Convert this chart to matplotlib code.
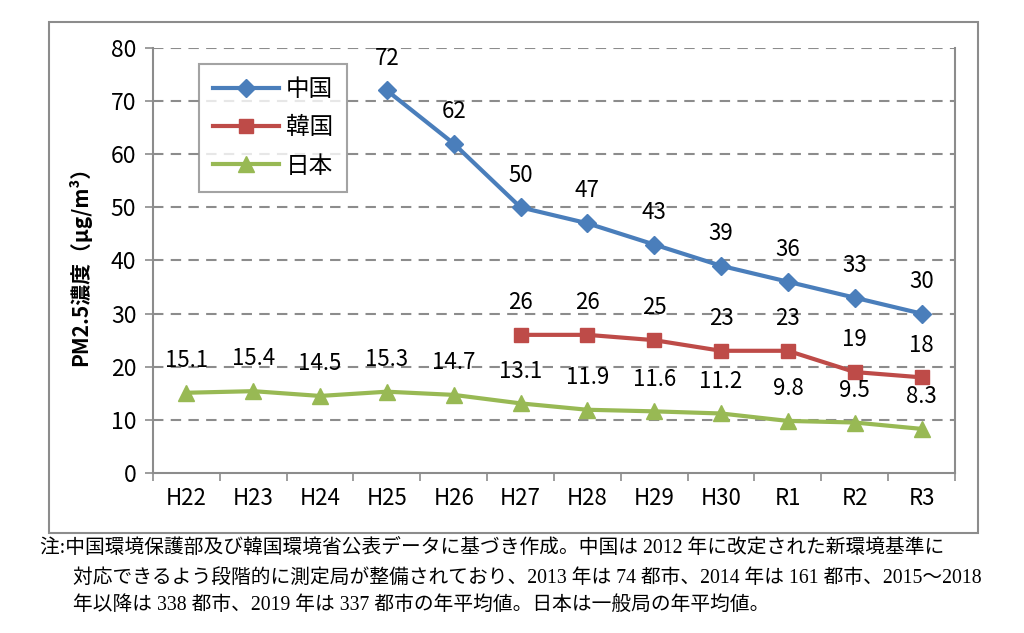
import numpy as np
import matplotlib
matplotlib.use('Agg')
from matplotlib import pyplot as plt
from matplotlib.patches import Rectangle

plt.rcParams['font.family'] = ['Noto Sans CJK JP', 'DejaVu Sans']

years = ['H22', 'H23', 'H24', 'H25', 'H26', 'H27',
         'H28', 'H29', 'H30', 'R1', 'R2', 'R3']
china = [None, None, None, 72, 62, 50, 47, 43, 39, 36, 33, 30]
korea = [None, None, None, None, None, 26, 26, 25, 23, 23, 19, 18]
japan = [15.1, 15.4, 14.5, 15.3, 14.7, 13.1, 11.9, 11.6, 11.2, 9.8, 9.5, 8.3]

note_lines = [
    '注:中国環境保護部及び韓国環境省公表データに基づき作成。中国は 2012 年に改定された新環境基準に',
    '対応できるよう段階的に測定局が整備されており、2013 年は 74 都市、2014 年は 161 都市、2015～2018',
    '年以降は 338 都市、2019 年は 337 都市の年平均値。日本は一般局の年平均値。',
]

grey = '#8c8c8c'
fig = plt.figure(figsize=(10.24, 6.33), dpi=100)

# outer chart frame
fig.patches.append(Rectangle((0.048, 0.158), 0.907, 0.807, transform=fig.transFigure,
                             fill=False, edgecolor=grey, linewidth=1.5))

ax = fig.add_axes([0.1494, 0.2528, 0.7832, 0.6714])
x = np.arange(len(years))


def to_arr(vals):
    return np.array([np.nan if v is None else v for v in vals], dtype=float)


series = [
    ('中国', to_arr(china), '#4a7ebb', 'D', 9, '{:.0f}'),
    ('韓国', to_arr(korea), '#be4b48', 's', 10, '{:.0f}'),
    ('日本', to_arr(japan), '#98b954', '^', 11, '{:.1f}'),
]
for name, y, color, marker, ms, fmt in series:
    ax.plot(x, y, color=color, lw=3, marker=marker, markersize=ms,
            label=name, zorder=3)
    for xi, yi in zip(x, y):
        if np.isnan(yi):
            continue
        ax.annotate(fmt.format(yi), (xi, yi), xytext=(0, 15),
                    textcoords='offset points', ha='center', va='bottom',
                    fontsize=16, color='black')

ax.set_xlim(-0.5, len(years) - 0.5)
ax.set_ylim(0, 80)
ax.set_yticks(range(0, 81, 10))
ax.tick_params(axis='y', labelsize=16.5, length=6, color=grey, width=1.2, pad=6)
ax.set_xticks(x)
ax.set_xticklabels(years)
ax.set_xticks(np.arange(-0.5, len(years)), minor=True)
ax.tick_params(axis='x', which='major', length=0, labelsize=16, pad=10)
ax.tick_params(axis='x', which='minor', length=6, color=grey, width=1.2)

for yv in range(10, 81, 10):
    ax.axhline(yv, color=grey, lw=1.5, ls=(0, (5, 3.5)), zorder=1)
for side in ['left', 'bottom', 'right']:
    ax.spines[side].set_color(grey)
    ax.spines[side].set_linewidth(1.5)
ax.spines['top'].set_visible(False)

ax.set_ylabel('PM2.5濃度（μg/m³）', fontsize=15, fontweight='bold', labelpad=14)

leg = ax.legend(loc='upper left', bbox_to_anchor=(0.057, 0.962), fontsize=17,
                frameon=True, fancybox=False, handlelength=2.8,
                labelspacing=0.64, borderpad=0.6, handletextpad=0.3,
                borderaxespad=0)
leg.get_frame().set_edgecolor(grey)
leg.get_frame().set_linewidth(1.5)

note_font = ['Liberation Serif', 'Noto Sans CJK JP']
fig.text(0.039, 0.133, note_lines[0], fontsize=14.2, va='center', ha='left',
         family=note_font)
fig.text(0.071, 0.087, note_lines[1], fontsize=14.2, va='center', ha='left',
         family=note_font)
fig.text(0.071, 0.044, note_lines[2], fontsize=14.2, va='center', ha='left',
         family=note_font)

plt.savefig('out.png', dpi=100)
